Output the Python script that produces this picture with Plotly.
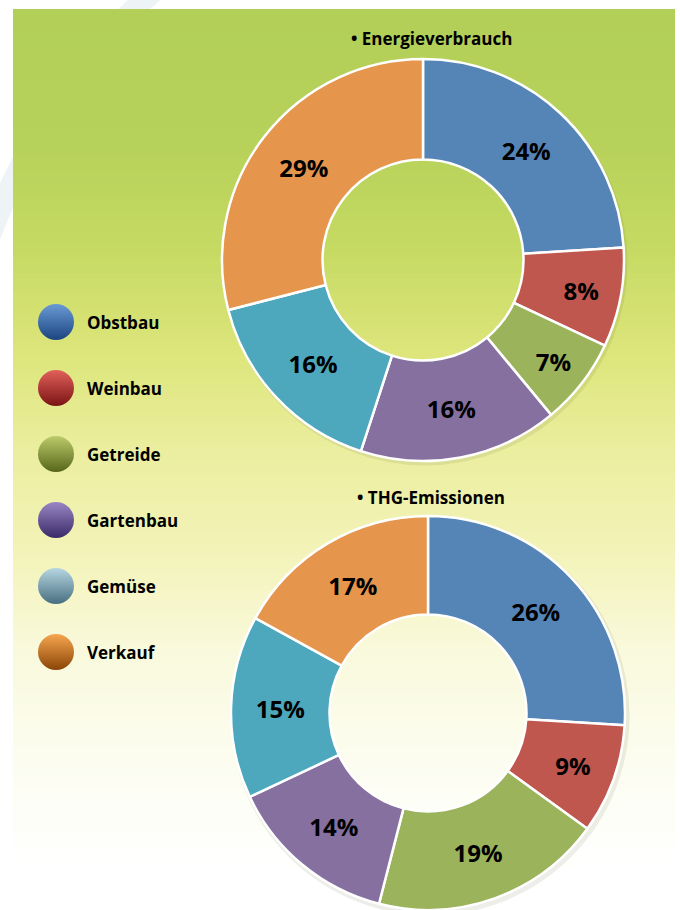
import plotly.graph_objects as go

# ---- data ----
categories = ["Obstbau", "Weinbau", "Getreide", "Gartenbau", "Gemüse", "Verkauf"]
energie_values = [24, 8, 7, 16, 16, 29]
thg_values = [26, 9, 19, 14, 15, 17]
title_energie = "• Energieverbrauch"
title_thg = "• THG-Emissionen"

slice_colors = ["#5585b7", "#c0574f", "#9bb35b", "#8670a0", "#4da8bd", "#e5954c"]
legend_top = ["#6a9ad4", "#e2605a", "#bccb6a", "#9a86c4", "#b6d6e2", "#f7a650"]
legend_bottom = ["#1b4580", "#7a1414", "#56661a", "#3a2a68", "#476f80", "#8a4506"]

W, H = 680, 910
FONT = "Open Sans"

fig = go.Figure()

# ---- background gradient (shapes) ----
stops = [(9, (178, 207, 87)), (150, (183, 210, 90)), (250, (198, 218, 99)),
         (350, (220, 229, 122)), (450, (235, 238, 158)), (550, (243, 243, 184)),
         (650, (249, 249, 220)), (760, (252, 253, 240)), (870, (255, 255, 255))]

def col_at(y):
    if y <= stops[0][0]:
        return stops[0][1]
    for (y0, c0), (y1, c1) in zip(stops[:-1], stops[1:]):
        if y0 <= y <= y1:
            t = (y - y0) / (y1 - y0)
            return tuple(round(a + (b - a) * t) for a, b in zip(c0, c1))
    return stops[-1][1]

shapes = []
# faint arc in white margin
shapes.append(dict(type="path", xref="x", yref="y", layer="below",
                   path="M 155,-10 Q 50,80 -10,235",
                   line=dict(color="#eef3f6", width=22)))
step = 6
y = 9
while y < H:
    c = col_at(y + step / 2)
    shapes.append(dict(type="rect", xref="x", yref="y", layer="below",
                       x0=13, x1=675, y0=y, y1=min(y + step + 0.6, H),
                       fillcolor="rgb(%d,%d,%d)" % c, line=dict(width=0)))
    y += step

# soft shadows behind donuts
for cx, cy, r in [(425, 263, 199), (430, 716, 196)]:
    shapes.append(dict(type="circle", xref="x", yref="y", layer="below",
                       x0=cx - r, x1=cx + r, y0=cy - r, y1=cy + r,
                       line=dict(color="rgba(60,70,20,0.09)", width=7)))

# ---- donuts ----
def dom(cx, top, bottom, r):
    return dict(x=[(cx - r) / W, (cx + r) / W], y=[1 - bottom / H, 1 - top / H])

fig.add_trace(go.Pie(
    labels=categories, values=energie_values, sort=False, direction="clockwise",
    hole=0.5, domain=dom(423, 59, 461, 201),
    marker=dict(colors=slice_colors, line=dict(color="white", width=2.5)),
    texttemplate="%{value}%", textposition="inside",
    insidetextorientation="horizontal",
    textfont=dict(family=FONT, size=24, color="black", weight="bold"),
    showlegend=False, hoverinfo="label+value"))

fig.add_trace(go.Pie(
    labels=categories, values=thg_values, sort=False, direction="clockwise",
    hole=0.5, domain=dom(428, 516, 910, 197),
    marker=dict(colors=slice_colors, line=dict(color="white", width=2.5)),
    texttemplate="%{value}%", textposition="inside",
    insidetextorientation="horizontal",
    textfont=dict(family=FONT, size=24, color="black", weight="bold"),
    showlegend=False, hoverinfo="label+value"))

# ---- legend (glossy circles + labels) ----
leg_y = [322 + i * 66 for i in range(len(categories))]
fig.add_trace(go.Scatter(
    x=[56] * len(categories), y=leg_y, mode="markers",
    marker=dict(size=36, color=legend_top,
                gradient=dict(type="vertical", color=legend_bottom),
                line=dict(width=0)),
    showlegend=False, hoverinfo="skip"))

annotations = []
for cat, yy in zip(categories, leg_y):
    annotations.append(dict(x=85, y=yy, xref="x", yref="y", text=cat,
                            showarrow=False, xanchor="left", yanchor="middle",
                            font=dict(family=FONT, size=17, color="black", weight="bold")))

annotations.append(dict(x=431, y=38, xref="x", yref="y", text=title_energie,
                        showarrow=False, xanchor="center", yanchor="middle",
                        font=dict(family=FONT, size=17, color="black", weight="bold")))
annotations.append(dict(x=431, y=497, xref="x", yref="y", text=title_thg,
                        showarrow=False, xanchor="center", yanchor="middle",
                        font=dict(family=FONT, size=17, color="black", weight="bold")))

fig.update_layout(
    width=W, height=H, margin=dict(l=0, r=0, t=0, b=0),
    paper_bgcolor="white", plot_bgcolor="rgba(0,0,0,0)",
    xaxis=dict(range=[0, W], visible=False, fixedrange=True, domain=[0, 1]),
    yaxis=dict(range=[H, 0], visible=False, fixedrange=True, domain=[0, 1]),
    shapes=shapes, annotations=annotations,
    font=dict(family=FONT),
)

fig.write_html("out.html", config={"displayModeBar": False},
               post_script="document.body.style.margin='0';document.body.style.overflow='hidden';")
